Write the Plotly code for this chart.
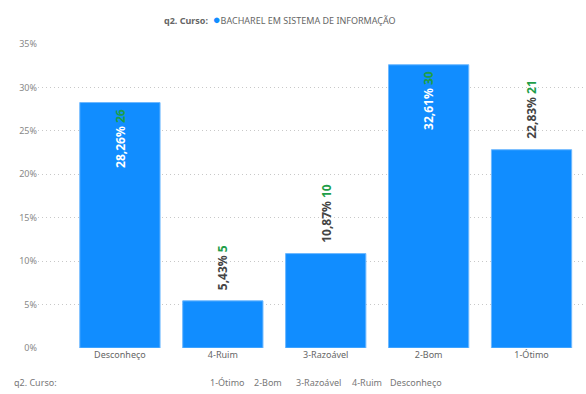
import plotly.graph_objects as go

categories = ["Desconheço", "4-Ruim", "3-Razoável", "2-Bom", "1-Ótimo"]
counts = [26, 5, 10, 30, 21]
pct = [0.2826, 0.0543, 0.1087, 0.3261, 0.2283]
pct_labels = ["28,26%", "5,43%", "10,87%", "32,61%", "22,83%"]
y_ticks = [0, 0.05, 0.10, 0.15, 0.20, 0.25, 0.30, 0.35]
slicer_items = ["1-Ótimo", "2-Bom", "3-Razoável", "4-Ruim", "Desconheço"]

BLUE = "#118DFF"
GREEN = "#1E9E48"
FONT = "Noto Sans"

fig = go.Figure(go.Bar(
    x=categories,
    y=pct,
    width=0.78,
    marker=dict(color=BLUE, line=dict(color="#6db8ff", width=1)),
    showlegend=False,
    hoverinfo="skip",
))

# data labels: inside for the two tallest bars, above the others
for c, p, lab, n in zip(categories, pct, pct_labels, counts):
    inside = p > 0.25
    pc = "white" if inside else "#444444"
    fig.add_annotation(
        x=c, y=p, xref="x", yref="y",
        text=f"<b><span style='color:{pc}'>{lab}</span> <span style='color:{GREEN}'>{n}</span></b>",
        textangle=-90, showarrow=False,
        yanchor="top" if inside else "bottom",
        yshift=-4 if inside else 9,
        font=dict(family=FONT, size=12),
    )

# legend header
fig.add_annotation(
    x=280, y=19,
    text=f"<b>q2. Curso:</b>  <span style='color:{BLUE};font-size:13px'>●</span>BACHAREL EM SISTEMA DE INFORMAÇÃO",
    showarrow=False, font=dict(family=FONT, size=9, color="#666666"),
    xanchor="center", yanchor="middle",
)

# slicer row at bottom
fig.add_annotation(
    text="q2. Curso:", x=12, y=382, showarrow=False,
    font=dict(family=FONT, size=9, color="#777777"), xanchor="left", yanchor="middle",
)
slicer_x = [208, 252, 294, 350, 388]
for sx, item in zip(slicer_x, slicer_items):
    fig.add_annotation(
        text=item, x=sx, y=382, showarrow=False,
        font=dict(family=FONT, size=9, color="#777777"), xanchor="left", yanchor="middle",
    )

# pixel-placed annotations -> paper coords
W, H = 586, 394
ML, MR, MT, MB = 38, 3, 44, 46
for a in fig.layout.annotations:
    if a.xref == "x":
        continue
    a.update(xref="paper", yref="paper",
             x=(a.x - ML) / (W - ML - MR),
             y=(H - MB - a.y) / (H - MT - MB))

fig.update_layout(
    width=W, height=H,
    margin=dict(l=ML, r=MR, t=MT, b=MB),
    paper_bgcolor="white", plot_bgcolor="white",
    font=dict(family=FONT, size=9, color="#777777"),
    xaxis=dict(
        range=[-0.796, 4.5], showgrid=False, zeroline=False, showline=False,
        ticks="", tickfont=dict(size=9, color="#666666"),
    ),
    yaxis=dict(
        range=[0, 0.35], tickvals=y_ticks, tickformat=".0%",
        showgrid=True, gridcolor="#c8c8c8", griddash="1px,3px", gridwidth=1,
        zeroline=False, showline=False, ticks="",
        tickfont=dict(size=9, color="#888888"),
    ),
)

fig.write_html("out.html", config={"displayModeBar": False},
               post_script="document.body.style.margin='0';")
